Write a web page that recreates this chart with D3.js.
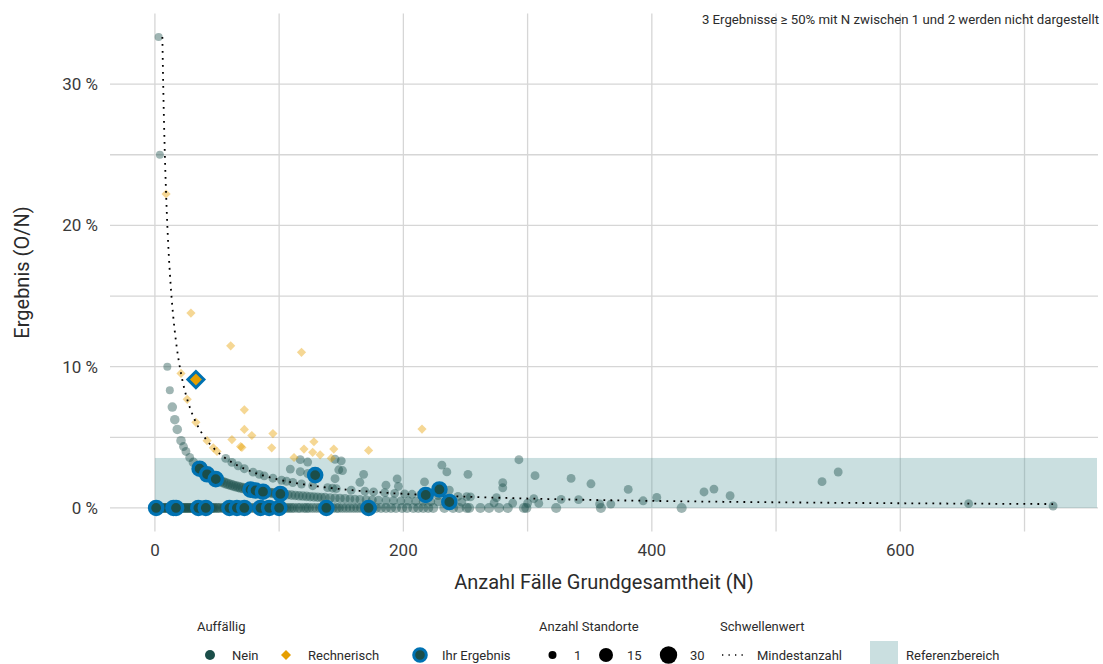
<!DOCTYPE html>
<html>
<head>
<meta charset="utf-8">
<script src="https://cdn.jsdelivr.net/npm/d3@7"></script>
<style>
  html, body { margin: 0; padding: 0; background: #fff; }
  svg { display: block; font-family: Roboto, "Noto Sans", sans-serif; }
</style>
</head>
<body>
<svg id="chart" width="1103" height="664"></svg>
<script>
// ---------------- data ----------------
// [N, O, Anzahl Standorte]
const neinZeroRowN = [1,2,3,4,5,6,7,8,9,10,11,12,13,14,16,18,19,20,21,22,23,24,25,26,27,28,29,30,31,32,33,34,36,37,38,39,40,42,43,44,45,46,47,48,50,51,53,55,56,58,59,61,63,64,67,69,70,73,75,77,79,81,83,86,88,90,93,95,97,102,104,106,108,110,112,115,117,120,122,124,127,130,133,135,140,143,146,148,151,154,157,160,163,166,169,175,178,182,186,190,194,199,203,208,212,216,220,224,233,240,245,251,253,262,269,277,284,297,299,323,359,424];
const neinZeroRowSites = 4;
const neinOneRow = [[3,1,1],[4,1,1],[10,1,1],[12,1,1],[14,1,3],[16,1,3],[18,1,3],[21,1,3],[23,1,2],[25,1,2],[28,1,2],[31,1,3],[34,1,3],[38,1,3],[40,1,3],[44,1,5],[46,1,5],[51,1,5],[53,1,5],[55,1,5],[57,1,5],[59,1,5],[61,1,5],[63,1,5],[65,1,5],[67,1,5],[69,1,5],[71,1,5],[73,1,4],[75,1,4],[80,1,4],[82,1,4],[84,1,4],[86,1,4],[89,1,4],[91,1,4],[93,1,4],[95,1,4],[97,1,4],[99,1,4],[102,1,3],[104,1,3],[107,1,3],[110,1,3],[113,1,3],[116,1,3],[119,1,3],[122,1,3],[125,1,3],[128,1,3],[131,1,3],[134,1,3],[137,1,3],[141,1,3],[145,1,3],[149,1,3],[153,1,3],[157,1,2],[161,1,2],[165,1,2],[170,1,2],[175,1,2],[180,1,2],[186,1,2],[192,1,2],[198,1,2],[204,1,2],[210,1,2],[216,1,2],[222,1,2],[228,1,2],[247,1,2],[273,1,2],[288,1,2],[300,1,2],[309,1,2],[358,1,2],[367,1,2],[723,1,2]];
const neinTwoRow = [[57,2,2],[62,2,2],[67,2,2],[72,2,2],[79,2,2],[84,2,2],[88,2,2],[95,2,2],[102,2,2],[106,2,2],[111,2,2],[118,2,2],[127,2,2],[139,2,2],[143,2,2],[146,2,2],[158,2,2],[169,2,2],[176,2,2],[185,2,2],[193,2,2],[201,2,2],[207,2,2],[214,2,2],[221,2,2],[228,2,2],[244,2,2],[251,2,2],[254,2,2],[275,2,2],[305,2,2],[327,2,2],[341,2,2],[393,2,2],[655,2,2]];
const neinHigher = [[109,3,2],[117,4,2],[123,4,2],[117,3,2],[123,3,2],[145,5,2],[150,5,2],[145,3,2],[148,4,2],[151,4,2],[168,4,2],[165,3,2],[186,3,2],[195,4,2],[196,3,2],[231,7,2],[235,6,2],[252,6,2],[217,4,2],[237,3,2],[293,10,2],[280,5,2],[280,4,2],[306,7,2],[335,7,2],[351,6,2],[381,5,2],[404,3,2],[442,5,2],[450,6,2],[463,4,2],[537,10,2],[550,14,2]];
const rechnerisch = [[9,2,1],[21,2,1],[26,2,1],[29,4,1],[33,2,1],[42,2,1],[47,2,1],[50,2,1],[61,7,1],[62,3,1],[69,3,1],[70,3,1],[72,5,1],[72,4,1],[78,4,1],[94,4,1],[95,5,1],[112,4,1],[118,13,1],[120,5,1],[127,5,1],[128,6,1],[133,5,1],[142,5,1],[144,6,1],[172,7,1],[215,12,1]];
// Ihr Ergebnis: [N, O]
const ihrNein = [[1,0],[15,0],[17,0],[35,0],[41,0],[60,0],[66,0],[72,0],[85,0],[92,0],[100,0],[138,0],[172,0],[36,1],[42,1],[49,1],[77,1],[81,1],[87,1],[101,1],[129,3],[218,2],[229,3],[237,1]];
const ihrRechnerisch = [[33,3]];
const mindestanzahlO = 2;          // Schwellenwert: Mindestanzahl O
const referenzOben = 0.0354;       // Referenzbereich 0 % .. 3,54 %
const xTicks = [0,200,400,600];
const xMinor = [100,300,500,700];
const yTicks = [0,0.1,0.2,0.3];
const yMinor = [0.05,0.15,0.25];
const note = "3 Ergebnisse \u2265 50% mit N zwischen 1 und 2 werden nicht dargestellt";

// ---------------- setup ----------------
const C = { green:"#1b4e49", orange:"#E69F00", blue:"#0072B2", ref:"#5f9ea0", grid:"#d6d6d6", text:"#2b2b2b" };
const svg = d3.select("#chart");
const P = { l:110, r:1098, t:13.5, b:531.5 };

const nein = neinZeroRowN.map(n => [n,0,neinZeroRowSites]).concat(neinOneRow, neinTwoRow, neinHigher);
const allN = nein.concat(rechnerisch).map(d => d[0]);
const allY = nein.concat(rechnerisch).map(d => d[1]/d[0]);
const maxN = d3.max(allN), maxY = d3.max(allY);
const x = d3.scaleLinear().domain([-0.05*maxN, 1.05*maxN]).range([P.l, P.r]);
const y = d3.scaleLinear().domain([-0.05*maxY, 1.05*maxY]).range([P.b, P.t]);
const r = d3.scaleSqrt().domain([1,30]).range([4,8.7]);

// grid
const g = svg.append("g");
g.selectAll(".gx").data(xTicks.concat(xMinor)).join("line")
  .attr("x1", d => x(d)).attr("x2", d => x(d)).attr("y1", P.t).attr("y2", P.b)
  .attr("stroke", C.grid).attr("stroke-width", 1.3);
g.selectAll(".gy").data(yTicks.concat(yMinor)).join("line")
  .attr("y1", d => y(d)).attr("y2", d => y(d)).attr("x1", P.l).attr("x2", P.r)
  .attr("stroke", C.grid).attr("stroke-width", 1.3);

// reference area
svg.append("rect")
  .attr("x", x(0)).attr("width", P.r - 1 - x(0))
  .attr("y", y(referenzOben)).attr("height", y(0) - y(referenzOben))
  .attr("fill", C.ref).attr("fill-opacity", 0.33);

// note
svg.append("text").attr("x", 1099).attr("y", 24).attr("text-anchor", "end")
  .attr("font-size", 13.2).attr("fill", C.text).text(note);

// axes labels
svg.append("g").selectAll("text").data(yTicks).join("text")
  .attr("x", 98).attr("y", d => y(d)).attr("dy", "0.35em").attr("text-anchor", "end")
  .attr("font-size", 17).attr("fill", "#3a3a3a").text(d => Math.round(d*100) + " %");
svg.append("g").selectAll("text").data(xTicks).join("text")
  .attr("x", d => x(d)).attr("y", 556).attr("text-anchor", "middle")
  .attr("font-size", 17).attr("fill", "#3a3a3a").text(d => d);
svg.append("text").attr("x", (P.l+P.r)/2).attr("y", 589).attr("text-anchor", "middle")
  .attr("font-size", 20).attr("fill", C.text).text("Anzahl Fälle Grundgesamtheit (N)");
svg.append("text").attr("transform", `translate(29,${(P.t+P.b)/2}) rotate(-90)`)
  .attr("text-anchor", "middle").attr("font-size", 20).attr("fill", C.text).text("Ergebnis (O/N)");

const diamond = (cx, cy, h) => `M${cx},${cy-h}L${cx+h},${cy}L${cx},${cy+h}L${cx-h},${cy}Z`;

// points
const pts = svg.append("g");
pts.selectAll(".n").data(nein).join("circle")
  .attr("cx", d => x(d[0])).attr("cy", d => y(d[1]/d[0])).attr("r", d => r(d[2]))
  .attr("fill", C.green).attr("fill-opacity", 0.42);
pts.selectAll(".rc").data(rechnerisch).join("path")
  .attr("d", d => diamond(x(d[0]), y(d[1]/d[0]), r(d[2]) + 0.6))
  .attr("fill", C.orange).attr("fill-opacity", 0.42);

// threshold line (Mindestanzahl)
const schwelleN = d3.range(6, maxN + 0.01, 0.5);
svg.append("path").datum(schwelleN)
  .attr("d", d3.line().x(n => x(n)).y(n => y(mindestanzahlO / n)))
  .attr("fill", "none").attr("stroke", "#000").attr("stroke-width", 1.8)
  .attr("stroke-dasharray", "1.8,5.2");

// own results
const own = svg.append("g");
own.selectAll("circle").data(ihrNein).join("circle")
  .attr("cx", d => x(d[0])).attr("cy", d => y(d[1]/d[0])).attr("r", 6.6)
  .attr("fill", C.green).attr("stroke", C.blue).attr("stroke-width", 3.4);
own.selectAll("path").data(ihrRechnerisch).join("path")
  .attr("d", d => diamond(x(d[0]), y(d[1]/d[0]), 8))
  .attr("fill", C.orange).attr("stroke", C.blue).attr("stroke-width", 3);

// legend
const L = svg.append("g").attr("font-size", 13).attr("fill", C.text);
const ly = 655, lt = 631;
L.append("text").attr("x", 197).attr("y", lt).text("Auffällig");
L.append("text").attr("x", 539).attr("y", lt).text("Anzahl Standorte");
L.append("text").attr("x", 720).attr("y", lt).text("Schwellenwert");
L.append("circle").attr("cx", 210).attr("cy", ly).attr("r", 5).attr("fill", C.green);
L.append("text").attr("x", 232).attr("y", ly).attr("dy", "0.35em").text("Nein");
L.append("path").attr("d", diamond(286, ly, 5)).attr("fill", C.orange);
L.append("text").attr("x", 308).attr("y", ly).attr("dy", "0.35em").text("Rechnerisch");
L.append("circle").attr("cx", 420).attr("cy", ly).attr("r", 6.3).attr("fill", C.green)
  .attr("stroke", C.blue).attr("stroke-width", 3);
L.append("text").attr("x", 442).attr("y", ly).attr("dy", "0.35em").text("Ihr Ergebnis");
[[1,552.5,574],[15,606,627],[30,668.5,690]].forEach(([s,cx,tx]) => {
  L.append("circle").attr("cx", cx).attr("cy", ly).attr("r", r(s)).attr("fill", "#000");
  L.append("text").attr("x", tx).attr("y", ly).attr("dy", "0.35em").text(s);
});
L.append("line").attr("x1", 722).attr("x2", 746).attr("y1", ly).attr("y2", ly)
  .attr("stroke", "#000").attr("stroke-width", 1.3).attr("stroke-dasharray", "1.3,5.2");
L.append("text").attr("x", 757).attr("y", ly).attr("dy", "0.35em").text("Mindestanzahl");
L.append("rect").attr("x", 870).attr("y", 641).attr("width", 28).attr("height", 23)
  .attr("fill", C.ref).attr("fill-opacity", 0.33);
L.append("text").attr("x", 906).attr("y", ly).attr("dy", "0.35em").text("Referenzbereich");
</script>
</body>
</html>
